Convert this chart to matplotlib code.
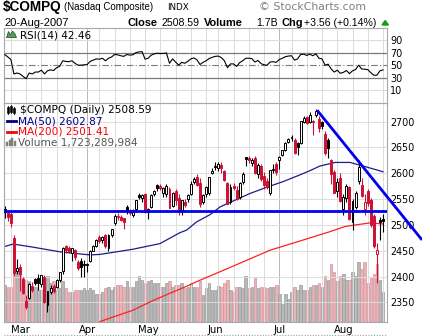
import numpy as np
import pandas as pd
import matplotlib
matplotlib.use("Agg")
import matplotlib.pyplot as plt
from matplotlib.patches import Rectangle, Polygon
from matplotlib.lines import Line2D
from matplotlib.transforms import Affine2D

# ---------------- data ----------------
holidays = ["2007-04-06", "2007-05-28", "2007-07-04"]
month_labels = ["Mar", "Apr", "May", "Jun", "Jul", "Aug"]
prev_close_start = 2518.4

opens = [
    2530, 2524, 2522, 2474, 2411,
    2418, 2396, 2352, 2358, 2382, 2396, 2398, 2385, 2400, 2345, 2370, 2381, 2380, 2394, 2410, 2459, 2455, 2445, 2452, 2428, 2430, 2424,
    2424, 2430, 2450, 2459, 2477, 2470, 2480, 2455, 2480, 2503, 2515, 2515, 2513, 2534, 2528, 2520, 2530, 2558, 2552, 2560,
    2525, 2534, 2560, 2578, 2576, 2562, 2560, 2570, 2537, 2565, 2552, 2527, 2545, 2550, 2560, 2584, 2593, 2582, 2545, 2560, 2562, 2601,
    2612, 2610, 2617, 2604, 2581, 2545, 2576, 2568, 2555, 2583, 2631, 2630, 2620, 2630, 2598, 2614, 2595, 2585, 2562, 2606, 2618,
    2625, 2635, 2645, 2660, 2668, 2664, 2658, 2658, 2700, 2708, 2700, 2702, 2712, 2705, 2700, 2677, 2664, 2625, 2603, 2565, 2590,
    2530, 2553, 2573, 2505, 2535, 2585, 2577, 2530, 2565, 2548, 2518, 2443, 2510, 2512]
highs = [
    2536, 2527, 2525, 2480, 2435,
    2424, 2400, 2365, 2388, 2390, 2398, 2406, 2404, 2404, 2373, 2384, 2386, 2396, 2409, 2458, 2462, 2460, 2456, 2454, 2433, 2436, 2432,
    2426, 2452, 2461, 2472, 2481, 2479, 2483, 2482, 2493, 2522, 2524, 2520, 2514, 2538, 2531, 2531, 2549, 2562, 2560, 2562,
    2533, 2560, 2568, 2580, 2580, 2574, 2580, 2573, 2563, 2569, 2560, 2548, 2550, 2560, 2585, 2592, 2599, 2590, 2560, 2575, 2593, 2610,
    2622, 2622, 2621, 2607, 2584, 2580, 2582, 2575, 2583, 2602, 2632, 2634, 2630, 2634, 2620, 2618, 2603, 2590, 2606, 2618, 2622,
    2633, 2646, 2660, 2668, 2674, 2668, 2660, 2702, 2710, 2710, 2718, 2704, 2724, 2710, 2702, 2682, 2668, 2628, 2606, 2590, 2600,
    2560, 2580, 2575, 2550, 2565, 2625, 2590, 2560, 2570, 2552, 2522, 2465, 2515, 2521]
lows = [
    2514, 2508, 2496, 2401, 2406,
    2372, 2366, 2337, 2356, 2370, 2383, 2375, 2380, 2349, 2332, 2366, 2368, 2378, 2390, 2405, 2445, 2445, 2430, 2433, 2413, 2400, 2400,
    2409, 2428, 2449, 2457, 2465, 2465, 2455, 2450, 2476, 2500, 2510, 2508, 2493, 2522, 2520, 2515, 2525, 2550, 2545, 2524,
    2512, 2532, 2556, 2566, 2568, 2555, 2555, 2532, 2535, 2538, 2520, 2520, 2535, 2545, 2558, 2580, 2575, 2535, 2540, 2555, 2558, 2598,
    2607, 2605, 2600, 2585, 2541, 2540, 2568, 2548, 2550, 2580, 2615, 2620, 2615, 2598, 2590, 2585, 2570, 2570, 2558, 2600, 2596,
    2608, 2633, 2643, 2658, 2662, 2637, 2635, 2656, 2698, 2695, 2698, 2675, 2708, 2680, 2685, 2636, 2630, 2580, 2561, 2555, 2545,
    2520, 2545, 2510, 2490, 2530, 2580, 2555, 2520, 2536, 2496, 2455, 2387, 2470, 2486]
closes = [
    2524.9, 2515.1, 2504.5, 2407.9, 2416.2,
    2404.2, 2368.0, 2340.7, 2385.1, 2374.6, 2387.6, 2387.7, 2402.3, 2350.6, 2371.7, 2378.7, 2372.7, 2394.4, 2408.2, 2455.9, 2450.9, 2448.9, 2455.6, 2437.4, 2417.1, 2417.9, 2421.6,
    2422.3, 2450.3, 2458.7, 2471.3, 2469.7, 2477.6, 2459.3, 2480.3, 2491.9, 2518.3, 2517.0, 2510.5, 2505.4, 2526.4, 2523.7, 2524.5, 2547.9, 2554.5, 2557.2, 2525.1,
    2531.5, 2557.8, 2565.5, 2572.2, 2571.0, 2571.8, 2576.3, 2533.7, 2562.2, 2547.4, 2525.3, 2547.4, 2539.4, 2558.5, 2578.8, 2588.0, 2577.1, 2540.0, 2557.2, 2572.9, 2592.6, 2604.5,
    2613.9, 2618.3, 2611.2, 2587.2, 2541.4, 2573.5, 2572.2, 2549.4, 2582.0, 2599.4, 2626.7, 2625.5, 2626.3, 2600.0, 2617.0, 2589.0, 2577.1, 2574.2, 2605.4, 2608.4, 2603.2,
    2632.3, 2645.0, 2659.0, 2666.5, 2670.2, 2639.2, 2651.8, 2701.7, 2707.0, 2697.3, 2712.3, 2699.9, 2720.0, 2687.6, 2690.6, 2639.9, 2648.2, 2599.3, 2562.2, 2583.3, 2546.3,
    2553.9, 2576.0, 2511.3, 2547.3, 2561.6, 2613.0, 2556.5, 2544.9, 2542.2, 2499.1, 2458.8, 2451.1, 2505.0, 2508.6]
volumes_bn = [
    2.1, 1.95, 1.95, 4.0, 2.9,
    3.0, 2.5, 2.4, 2.3, 2.0, 2.0, 1.8, 1.8, 2.5, 2.6, 2.2, 2.3, 1.8, 1.9, 2.3, 1.9, 1.7, 1.7, 1.8, 1.8, 1.8, 1.9,
    1.8, 1.9, 1.8, 1.6, 1.6, 1.7, 1.9, 2.0, 1.8, 2.0, 2.1, 2.1, 2.0, 2.3, 2.0, 2.0, 2.3, 2.6, 2.4, 2.2,
    2.3, 2.4, 2.2, 2.2, 2.0, 2.0, 2.2, 2.3, 2.0, 2.1, 2.1, 2.2, 1.9, 2.0, 2.2, 2.0, 2.0, 2.3, 1.5, 1.9, 2.2, 1.8,
    1.8, 2.05, 2.0, 2.2, 2.4, 1.8, 1.7, 2.0, 2.0, 1.9, 2.6, 1.9, 2.0, 2.5, 1.9, 2.0, 2.0, 1.9, 2.0, 2.0, 2.1,
    1.6, 1.0, 1.6, 1.3, 1.7, 2.0, 1.8, 2.1, 1.8, 1.8, 2.0, 2.1, 2.1, 2.2, 2.0, 2.6, 2.4, 3.3, 2.8, 2.3, 2.6,
    2.7, 2.4, 2.4, 2.8, 2.6, 3.4, 3.0, 3.4, 2.2, 2.5, 2.7, 3.3, 2.4, 1.72]
rsi = [
    67, 63, 59, 36, 37.5,
    36, 32, 28.5, 37.5, 36, 39, 39, 42, 36, 41, 42.5, 41.5, 46, 48, 57, 56, 55.5, 57, 53, 50, 50, 50.5,
    51, 56, 58, 60, 59.5, 61, 57, 61, 63, 67, 66.5, 65, 64, 67, 66, 66.5, 70, 71, 71.5, 59.5,
    61, 66, 68, 69, 68.5, 68.7, 69.5, 53, 60, 55, 50, 54.5, 53, 56, 60, 61.5, 58.5, 51, 54.5, 57, 60.5, 62.5,
    64, 64.5, 62, 57, 46, 52, 52, 48, 54, 57, 61, 61, 60.5, 55, 57.5, 52.5, 50.5, 50, 55, 55.5, 54.5,
    59, 61, 63.5, 64.5, 65, 58, 60, 67, 67.5, 65.5, 67.5, 65, 68, 61, 60, 50, 51.5, 44, 39, 42, 37,
    38.5, 41.5, 36.5, 41, 43, 50, 44, 43.5, 43, 38, 34, 34, 41, 42.46]

ma50_pos = [-0.3, 2.8, 9.3, 18.1, 27.9, 31.2, 42, 50.9, 57.4, 59.6, 62.9, 67.3, 70.6, 80.4, 85.9, 91.3, 96.8, 100, 103.3, 108.3, 113.2, 118.1, 124]
ma50_val = [2458, 2463, 2457, 2448, 2442, 2443, 2453, 2464, 2485, 2490, 2506, 2520, 2535, 2561, 2573, 2584, 2597, 2605, 2614, 2621, 2621, 2613, 2603]
ma200_pos = [31.2, 42, 47.6, 54.2, 59.1, 64, 77.1, 86.9, 96.8, 106.6, 111.5, 119.7, 124]
ma200_val = [2313, 2335, 2351, 2368, 2380, 2393, 2426, 2451, 2469, 2487, 2497, 2504, 2502]

support_level = 2527
trend_pos = [102.4, 136.8]
trend_val = [2722, 2471]

# ---------------- figure ----------------
W, H = 422, 336
fig = plt.figure(figsize=(W / 100, H / 100), dpi=100)
fig.patch.set_facecolor("white")
PIX = Affine2D().scale(1 / W, -1 / H).translate(0, 1) + fig.transFigure


def rect(left, top, right, bottom):
    return [left / W, 1 - bottom / H, (right - left) / W, (bottom - top) / H]


PL, PR = 4, 387
RSI_TOP, DIV, BOT = 28, 102.5, 322
ax_rsi = fig.add_axes(rect(PL, RSI_TOP, PR, DIV))
ax_vol = fig.add_axes(rect(PL, DIV, PR, BOT))
ax = fig.add_axes(rect(PL, DIV, PR, BOT))
ax.set_facecolor("none")

dates = pd.bdate_range("2007-02-22", "2007-08-20")
dates = dates[~dates.isin(pd.to_datetime(holidays))]
n = len(closes)
x = np.arange(n)
XMIN, XMAX = -0.26, 125.31

week_starts = [i for i in range(1, n) if dates[i].weekday() <= dates[i - 1].weekday()]
month_starts = [i for i in range(1, n) if dates[i].month != dates[i - 1].month]

RED = "#cc1336"
BLACK = "#000000"
BLUE = "#0000ee"
NAVY = "#1c1c8c"
GRID = "#dcdcdc"
MGRID = "#b8b8b8"
SPINE = "#a8a8a8"

# ---- RSI panel ----
ax_rsi.set_xlim(XMIN, XMAX)
ax_rsi.set_ylim(-9.5, 109.2)
for w in week_starts:
    ax_rsi.axvline(w, color=MGRID if w in month_starts else GRID, lw=0.7, zorder=0)
for lv in [10, 90]:
    ax_rsi.axhline(lv, color=GRID, lw=0.7, zorder=0)
for lv in [30, 70]:
    ax_rsi.axhline(lv, color="#7a7a7a", lw=0.9, zorder=1)
ax_rsi.axhline(50, color="#7a7a7a", lw=0.8, ls=(0, (6, 2, 1, 2)), zorder=1)
ax_rsi.plot(x, rsi, color="black", lw=0.8, zorder=3)
ax_rsi.yaxis.tick_right()
ax_rsi.set_yticks([10, 30, 50, 70, 90])
ax_rsi.tick_params(axis="y", length=0, pad=2.3, labelsize=6.9)
ax_rsi.set_xticks([])
for s in ax_rsi.spines.values():
    s.set_color(SPINE)
    s.set_linewidth(0.8)

# ---- volume (behind) ----
prev = [prev_close_start] + closes[:-1]
down = [c < p for c, p in zip(closes, prev)]
vface = ["#e8b4b8" if d else "#b9b9b9" for d in down]
vedge = ["#d8949b" if d else "#9a9a9a" for d in down]
ax_vol.bar(x, volumes_bn, width=0.82, color=vface, edgecolor=vedge, lw=0.5)
ax_vol.set_xlim(XMIN, XMAX)
ax_vol.set_ylim(0, 12.4)
ax_vol.axis("off")

# ---- price panel ----
ax.set_xlim(XMIN, XMAX)
ax.set_ylim(2312.2, 2737.0)
for w in week_starts:
    ax.axvline(w, color=MGRID if w in month_starts else GRID, lw=0.7, zorder=0)
for lv in range(2350, 2701, 50):
    ax.axhline(lv, color=GRID, lw=0.7, zorder=0)

ax.plot(ma50_pos, ma50_val, color=NAVY, lw=0.9, zorder=2)
ax.plot(ma200_pos, ma200_val, color="#ff2020", lw=0.9, zorder=2)

for i in range(n):
    o, h, l, c = opens[i], highs[i], lows[i], closes[i]
    col = RED if down[i] else BLACK
    ax.vlines(i, l, h, color=col, lw=0.8, zorder=3)
    bot = min(o, c)
    hgt = max(abs(c - o), 1.0)
    face = "white" if c >= o else col
    ax.add_patch(Rectangle((i - 0.32, bot), 0.64, hgt, facecolor=face,
                           edgecolor=col, lw=0.7, zorder=4))

ax.axhline(support_level, color=BLUE, lw=2.0, zorder=6)
ax.plot(trend_pos, trend_val, color=BLUE, lw=2.0, zorder=6, clip_on=False,
        solid_capstyle="butt")

ax.yaxis.tick_right()
ax.set_yticks(list(range(2350, 2701, 50)))
ax.tick_params(axis="y", length=0, pad=2.3, labelsize=6.9)
ax.set_xticks(month_starts)
ax.set_xticklabels(month_labels)
ax.tick_params(axis="x", length=0, pad=2.2, labelsize=7.2)
for s in ax.spines.values():
    s.set_color(SPINE)
    s.set_linewidth(0.8)

# ---------------- header ----------------
def t(xp, yp, s, **kw):
    fig.text(xp / W, 1 - yp / H, s, va="baseline", ha="left", **kw)

LS = "Liberation Sans"
t(3, 10.5, "$COMPQ", family=LS, weight="bold", fontsize=9.8)
t(64, 10.5, "(Nasdaq Composite)", family=LS, fontsize=7)
t(167, 10.5, "INDX", family="DejaVu Sans", fontsize=6.3)
t(259, 10.5, "\u00a9 StockCharts.com", family="DejaVu Sans", fontsize=7.8, color="#808080")
t(4, 26, "20-Aug-2007", family=LS, fontsize=8)
t(128, 26, "Close", family=LS, weight="bold", fontsize=7.9)
t(162, 26, "2508.59", family=LS, fontsize=7.6)
t(204, 26, "Volume", family=LS, weight="bold", fontsize=7.9)
t(256, 26, "1.7B", family=LS, fontsize=7.6)
t(281, 26, "Chg", family=LS, weight="bold", fontsize=7.9)
t(304.5, 26, "+3.56 (+0.14%)", family=LS, fontsize=7.6)
fig.add_artist(Polygon([(382, 25), (388.5, 25), (385.2, 20.5)], closed=True,
                       facecolor="#11a011", edgecolor="#11a011", transform=PIX))

# ---------------- in-panel legends ----------------
DV = "DejaVu Sans"
fig.add_artist(Polygon([(6.5, 37.5), (8.5, 31.5), (10.5, 35), (12.5, 31), (15, 34), (16.5, 37.5)],
                       closed=True, facecolor="#5a9a5a", edgecolor="#2f5f2f", lw=0.6, transform=PIX))
t(19.5, 38, "RSI(14) 42.46", family=DV, fontsize=7.5)

# candle icon
for cx, top, bottom in [(8, 107, 113), (11, 106, 112), (14, 107.5, 113)]:
    fig.add_artist(Line2D([cx, cx], [top - 1, bottom + 1], color="black", lw=0.6, transform=PIX))
    fig.add_artist(Rectangle((cx - 1, top), 2, bottom - top, facecolor="black",
                             edgecolor="black", lw=0.4, transform=PIX))
t(19.5, 113.3, "$COMPQ (Daily) 2508.59", family=DV, fontsize=7.6)
fig.add_artist(Line2D([6.5, 16], [120.8, 120.8], color="#000080", lw=2.0, transform=PIX))
t(17.5, 124, "MA(50) 2602.87", family=DV, fontsize=7.6, color="#000080")
fig.add_artist(Line2D([6.5, 16], [131.6, 131.6], color="#ff0000", lw=2.0, transform=PIX))
t(17.5, 135, "MA(200) 2501.41", family=DV, fontsize=7.6, color="#ff0000")
for bx, bh in [(7, 4), (9.5, 6), (12, 8), (14.5, 5)]:
    fig.add_artist(Rectangle((bx - 1, 146 - bh), 2, bh, facecolor="#808080",
                             edgecolor="#808080", lw=0.3, transform=PIX))
t(17.5, 145.7, "Volume 1,723,289,984", family=DV, fontsize=7.6, color="#555555")

# bottom dotted rule
fig.add_artist(Line2D([4, 386], [335, 335], color="#a0a0a0", lw=0.8, ls=(0, (1, 1.5)), transform=PIX))

fig.savefig("out.png", dpi=100, facecolor="white")
